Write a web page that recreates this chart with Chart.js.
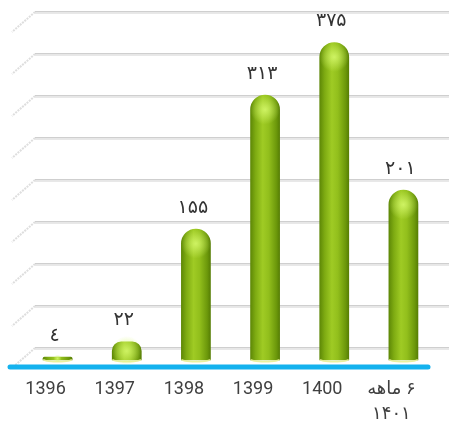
<!DOCTYPE html>
<html>
<head>
<meta charset="utf-8">
<script src="https://cdn.jsdelivr.net/npm/chart.js@4"></script>
<style>
html,body{margin:0;padding:0;background:#fff;}
#wrap{width:449px;height:432px;}
</style>
</head>
<body>
<div id="wrap"><canvas id="chart"></canvas></div>
<script>

// DATA

const years = ['1396', '1397', '1398', '1399', '1400', ['\u200F۶ ماهه', '۱۴۰۱']];

const values = [4, 22, 155, 313, 375, 201];

const valueLabels = ['٤', '۲۲', '۱۵۵', '۳۱۳', '۳۷۵', '۲۰۱'];

const gridSteps = [0, 50, 100, 150, 200, 250, 300, 350, 400];


const BAR_PCT = 0.43;

// horizontal cylinder shading per bar
function barFill(c) {
  const chart = c.chart;
  const xs = chart.scales.x;
  if (!xs || !chart.chartArea) return '#8cbc1a';
  const cx = xs.getPixelForValue(c.dataIndex);
  const w = xs.width / years.length * BAR_PCT;
  const g = chart.ctx.createLinearGradient(cx - w / 2, 0, cx + w / 2, 0);
  g.addColorStop(0, '#5c8606');
  g.addColorStop(0.18, '#7eab12');
  g.addColorStop(0.42, '#9fcb24');
  g.addColorStop(0.62, '#92bf1c');
  g.addColorStop(0.88, '#6c980b');
  g.addColorStop(1, '#557c04');
  return g;
}


// back wall grid, side wall slants and blue floor line
const decor = {
  id: 'decor',
  beforeDatasetsDraw(chart) {
    const ctx = chart.ctx;
    const area = chart.chartArea;
    const g = chart.scales.yGrid;
    const x0 = area.left + 12;
    ctx.save();
    gridSteps.forEach(v => {
      const y = Math.round(g.getPixelForValue(v));
      ctx.fillStyle = '#cfcfcf';
      ctx.fillRect(x0, y - 1, chart.width - x0, 1.5);
      ctx.fillStyle = '#e8e8e8';
      ctx.fillRect(x0, y + 0.5, chart.width - x0, 1.5);
      ctx.strokeStyle = '#dedede';
      ctx.lineWidth = 2;
      ctx.setLineDash([2, 1]);
      ctx.beginPath();
      ctx.moveTo(x0, y);
      ctx.lineTo(x0 - 23, y + 20);
      ctx.stroke();
      ctx.setLineDash([]);
    });
    ctx.strokeStyle = '#14b2ee';
    ctx.lineWidth = 5;
    ctx.lineCap = 'round';
    ctx.beginPath();
    ctx.moveTo(area.left - 13, area.bottom);
    ctx.lineTo(area.right - 10, area.bottom);
    ctx.stroke();
    ctx.restore();
  },
  afterDatasetsDraw(chart) {
    const ctx = chart.ctx;
    const meta = chart.getDatasetMeta(0);
    ctx.save();
    meta.data.forEach((bar, i) => {
      const w = bar.width;
      // bottom rim
      ctx.strokeStyle = 'rgba(232,240,150,0.9)';
      ctx.lineWidth = 1.5;
      ctx.beginPath();
      ctx.ellipse(bar.x, bar.base - 1, w / 2 - 1, 2.5, 0, 0, Math.PI);
      ctx.stroke();
      // top glint
      const h = bar.base - bar.y;
      const cy = bar.y + Math.min(w / 2, h / 2);
      const r = Math.min(w / 2, Math.max(h, 4));
      const rg = ctx.createRadialGradient(bar.x, cy, 0, bar.x, cy, r);
      rg.addColorStop(0, 'rgba(215,250,110,0.85)');
      rg.addColorStop(1, 'rgba(215,250,110,0)');
      ctx.fillStyle = rg;
      ctx.beginPath();
      ctx.arc(bar.x, cy, r, 0, Math.PI * 2);
      ctx.fill();
      // value label
      ctx.fillStyle = '#333';
      ctx.font = '19px "DejaVu Sans", sans-serif';
      ctx.textAlign = 'center';
      ctx.textBaseline = 'middle';
      ctx.fillText(valueLabels[i], bar.x - 3, bar.y - 21);
    });
    ctx.restore();
  }
};


new Chart(document.getElementById('chart'), {
  type: 'bar',
  data: {
    labels: years,
    datasets: [{
      data: values,
      backgroundColor: barFill,
      borderWidth: 0,
      borderSkipped: 'start',
      borderRadius: {topLeft: 15, topRight: 15, bottomLeft: 0, bottomRight: 0},
      barPercentage: BAR_PCT,
      categoryPercentage: 1
    }]
  },
  options: {
    responsive: true,
    maintainAspectRatio: false,
    animation: false,
    layout: {padding: {left: 23, right: 11, top: 4, bottom: 6}},
    plugins: {legend: {display: false}, tooltip: {enabled: false}},
    scales: {
      x: {
        afterFit: (s) => { s.height = 59; },
        grid: {display: false, drawTicks: false},
        border: {display: false},
        ticks: {
          color: '#404040',
          padding: 10,
          labelOffset: -12,
          maxRotation: 0,
          autoSkip: false,
          font: {family: 'Roboto, "DejaVu Sans", sans-serif', size: 18, lineHeight: 1.4}
        }
      },
      y: {
        display: false,
        min: -8,
        max: 420
      },
      yGrid: {
        display: false,
        position: 'left',
        min: -22.4,
        max: 409.8
      }
    }
  },
  plugins: [decor]
});

</script>
</body>
</html>
